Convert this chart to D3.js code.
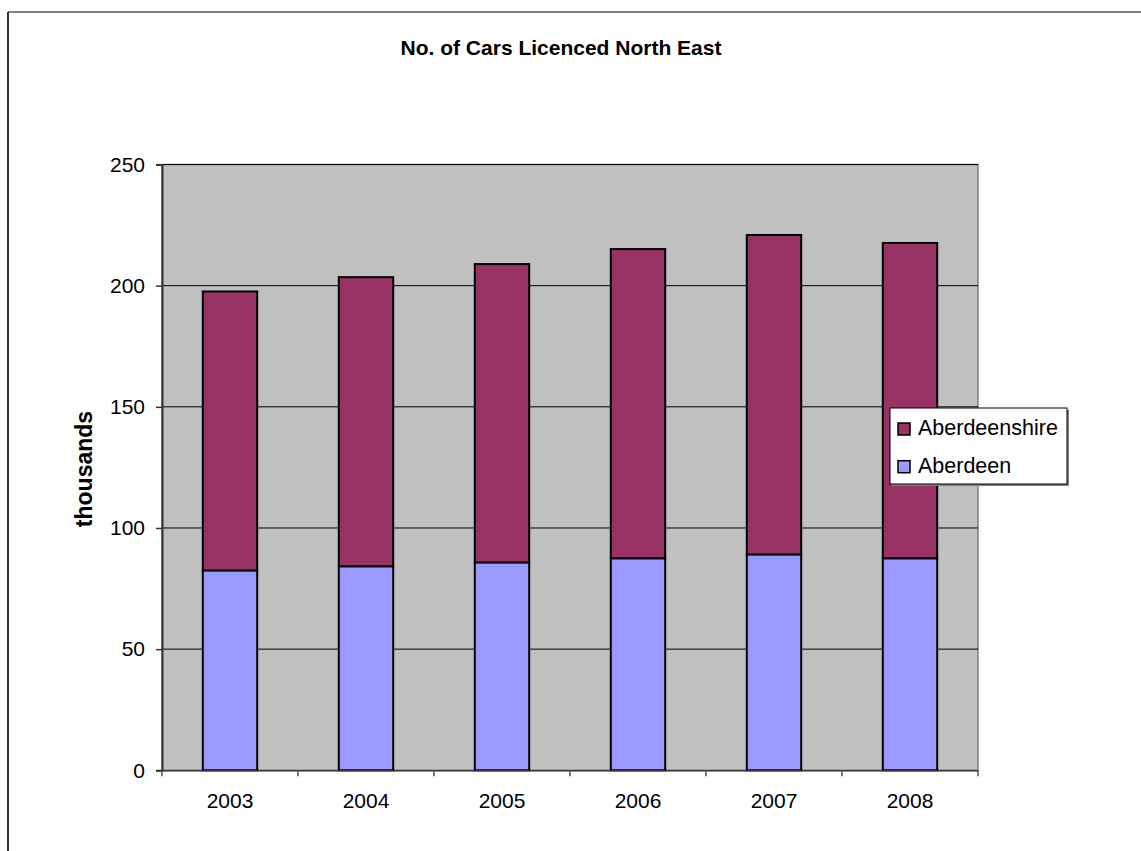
<!DOCTYPE html>
<html><head><meta charset="utf-8">
<script src="https://cdn.jsdelivr.net/npm/d3@7"></script>
<style>body{margin:0;background:#fff}svg{display:block;font-family:Arial,"Liberation Sans",sans-serif}</style>
</head><body>
<script>
const years = ["2003","2004","2005","2006","2007","2008"];
const aberdeen = [82.5, 84.2, 85.8, 87.5, 89.1, 87.5];
const aberdeenshire = [115.1, 119.3, 123.1, 127.6, 131.8, 130.1];
const yTicks = [0, 50, 100, 150, 200, 250];
const seriesNames = ["Aberdeen", "Aberdeenshire"];
const colors = {"Aberdeen":"#9999ff", "Aberdeenshire":"#993366"};

const W = 1141, H = 851;
const FONT = "Arial,'Liberation Sans',sans-serif";
const svg = d3.select("body").append("svg").attr("width", W).attr("height", H);

// outer chart border
svg.append("line").attr("x1",8).attr("x2",W).attr("y1",12).attr("y2",12).attr("stroke","#000").attr("stroke-width",1.2);
svg.append("line").attr("x1",8).attr("x2",8).attr("y1",12).attr("y2",H).attr("stroke","#333").attr("stroke-width",2);

const m = {left:162, top:164.5, right:978, bottom:770.3};
const x = d3.scaleBand().domain(years).range([m.left, m.right]).paddingInner(0.6).paddingOuter(0.3);
const y = d3.scaleLinear().domain([0,250]).range([m.bottom, m.top]);

// plot background
svg.append("rect").attr("x",m.left).attr("y",m.top).attr("width",m.right-m.left).attr("height",m.bottom-m.top)
  .attr("fill","#c0c0c0").attr("stroke","#808080").attr("stroke-width",1.5);

// gridlines
svg.append("g").selectAll("line").data(yTicks.filter(d=>d>0)).join("line")
  .attr("x1",m.left).attr("x2",m.right).attr("y1",d=>y(d)).attr("y2",d=>y(d))
  .attr("stroke","#000").attr("stroke-width",1);

// stacked bars
const rows = years.map((yr,i)=>({year:yr, Aberdeen:aberdeen[i], Aberdeenshire:aberdeenshire[i]}));
const stack = d3.stack().keys(seriesNames)(rows);
svg.append("g").selectAll("g").data(stack).join("g")
  .attr("fill", d=>colors[d.key])
  .selectAll("rect").data(d=>d).join("rect")
  .attr("x", d=>x(d.data.year)).attr("width", x.bandwidth())
  .attr("y", d=>y(d[1])).attr("height", d=>y(d[0])-y(d[1]))
  .attr("stroke","#000").attr("stroke-width",2);

// y axis
const yAxis = svg.append("g").attr("transform",`translate(${m.left},0)`)
  .call(d3.axisLeft(y).tickValues(yTicks).tickSize(6).tickPadding(11));
yAxis.attr("font-size",21).attr("font-family",FONT);
yAxis.select(".domain").attr("stroke","#333").attr("stroke-width",2);
yAxis.selectAll(".tick line").attr("stroke","#333").attr("stroke-width",1.5);
yAxis.selectAll("text").attr("fill","#000");

// x axis
const xAxis = svg.append("g").attr("transform",`translate(0,${m.bottom})`)
  .call(d3.axisBottom(x).tickSize(0).tickPadding(23));
xAxis.attr("font-size",21).attr("font-family",FONT);
xAxis.select(".domain").attr("stroke","#333").attr("stroke-width",1.5);
xAxis.selectAll("text").attr("fill","#000");
// category boundary ticks
const step = (m.right-m.left)/years.length;
svg.append("g").selectAll("line").data(d3.range(years.length+1)).join("line")
  .attr("x1",d=>m.left+d*step).attr("x2",d=>m.left+d*step)
  .attr("y1",m.bottom).attr("y2",m.bottom+6).attr("stroke","#555").attr("stroke-width",1.5);

// title
svg.append("text").attr("x",561).attr("y",55).attr("text-anchor","middle")
  .attr("font-size",21).attr("font-weight","bold").text("No. of Cars Licenced North East");

// y label
svg.append("text").attr("transform","translate(92,469) rotate(-90)").attr("text-anchor","middle")
  .attr("font-size",23).attr("font-weight","bold").text("thousands");

// legend
const lg = svg.append("g");
lg.append("rect").attr("x",892).attr("y",410).attr("width",177).attr("height",76).attr("fill","#808080");
lg.append("rect").attr("x",890).attr("y",408).attr("width",177).attr("height",76).attr("fill","#fff").attr("stroke","#000").attr("stroke-width",1);
const legItems = ["Aberdeenshire","Aberdeen"];
legItems.forEach((k,i)=>{
  const base = 435 + i*37.7;
  lg.append("rect").attr("x",898).attr("y",base-12).attr("width",12).attr("height",12).attr("fill",colors[k]).attr("stroke","#000").attr("stroke-width",1.5);
  lg.append("text").attr("x",918).attr("y",base).attr("font-size",21.5).text(k);
});
</script>
</body></html>
